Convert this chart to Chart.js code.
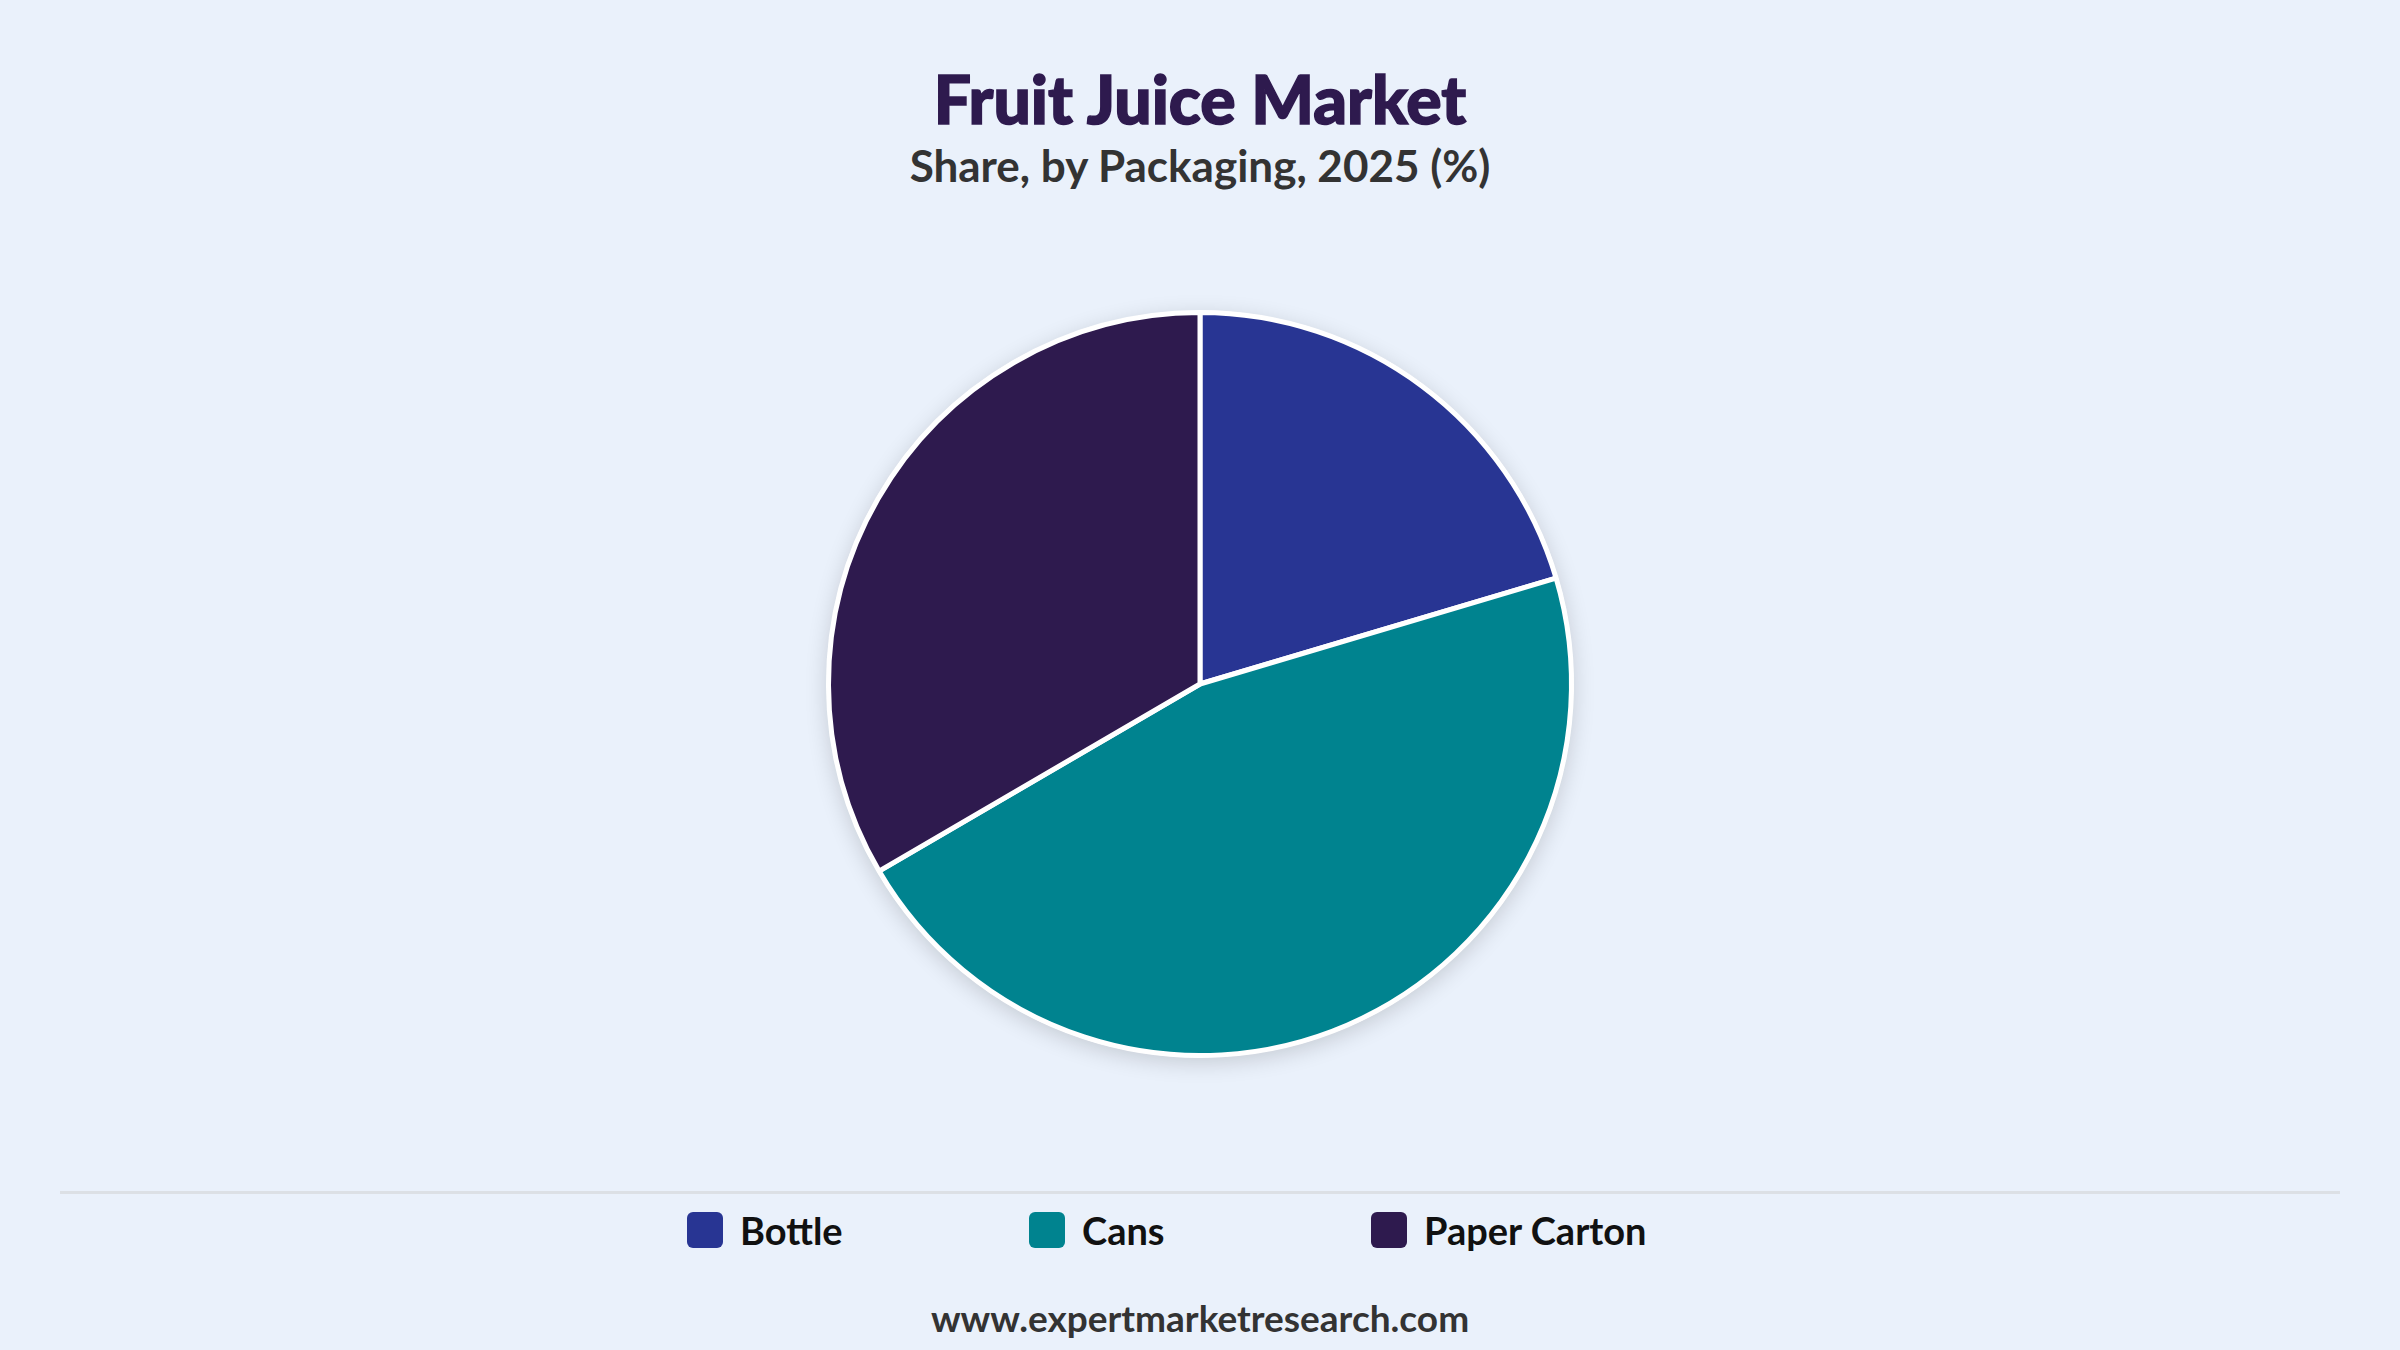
<!DOCTYPE html>
<html lang="en">
<head>
    <meta charset="UTF-8">
    <title>Fruit Juice Market</title>
    <script src="https://cdn.jsdelivr.net/npm/chart.js"></script>
    <style>
        body {
            margin: 0;
            width: 2400px;
            height: 1350px;
            background: #eaf1fb;
            font-family: Lato, "Noto Sans", sans-serif;
            position: relative;
            overflow: hidden;
        }
        .title {
            position: absolute;
            top: 66px;
            width: 100%;
            text-align: center;
            font-size: 66px;
            font-weight: 900;
            color: #2e1a4e;
            -webkit-text-stroke: 1.5px #2e1a4e;
            line-height: 1;
        }
        .subtitle {
            position: absolute;
            top: 143px;
            width: 100%;
            text-align: center;
            font-size: 44px;
            font-weight: 700;
            color: #333;
            line-height: 1;
        }
        .chart-container {
            position: absolute;
            left: 0;
            top: 280px;
            width: 2400px;
            height: 808px;
        }
        .divider {
            position: absolute;
            left: 60px;
            top: 1191px;
            width: 2280px;
            height: 3px;
            background: #dce0e5;
        }
        #legend {
            position: absolute;
            top: 1212px;
            width: 100%;
            display: flex;
            justify-content: center;
        }
        .legend-item {
            width: 342px;
            display: flex;
            align-items: center;
            font-size: 38px;
            font-weight: 700;
            color: #111;
            height: 36px;
        }
        .legend-box {
            width: 36px;
            height: 36px;
            border-radius: 6px;
            margin-right: 17px;
            flex: none;
        }
        .footer {
            position: absolute;
            top: 1299px;
            width: 100%;
            text-align: center;
            font-size: 37px;
            font-weight: 700;
            color: #333;
            line-height: 1;
        }
    </style>
</head>
<body>
    <div class="title">Fruit Juice Market</div>
    <div class="subtitle">Share, by Packaging, 2025 (%)</div>
    <div class="chart-container">
        <canvas id="packagingChart"></canvas>
    </div>
    <div class="divider"></div>
    <div id="legend"></div>
    <div class="footer">www.expertmarketresearch.com</div>
    <script>
        const packaging = ['Bottle', 'Cans', 'Paper Carton'];
        const shares = [20.4, 46.2, 33.4];
        const colors = ['#283593', '#00838f', '#2e1a4e'];

        // soft shadow behind the whole pie
        const pieShadow = {
            id: 'pieShadow',
            beforeDatasetsDraw(chart) {
                const arc = chart.getDatasetMeta(0).data[0];
                if (!arc) return;
                const ctx = chart.ctx;
                ctx.save();
                ctx.beginPath();
                ctx.arc(arc.x, arc.y, arc.outerRadius + 2, 0, Math.PI * 2);
                ctx.fillStyle = '#ffffff';
                ctx.shadowColor = 'rgba(0, 0, 0, 0.16)';
                ctx.shadowBlur = 22;
                ctx.shadowOffsetY = 5;
                ctx.fill();
                ctx.restore();
            }
        };

        const ctx = document.getElementById('packagingChart').getContext('2d');
        const chart = new Chart(ctx, {
            type: 'pie',
            data: {
                labels: packaging,
                datasets: [{
                    data: shares,
                    backgroundColor: colors,
                    borderColor: '#ffffff',
                    borderWidth: 5,
                    hoverOffset: 0
                }]
            },
            options: {
                responsive: true,
                maintainAspectRatio: false,
                animation: false,
                layout: {
                    padding: { top: 30, bottom: 30 }
                },
                plugins: {
                    legend: { display: false },
                    title: { display: false }
                }
            },
            plugins: [pieShadow]
        });

        const legend = document.getElementById('legend');
        chart.data.labels.forEach((label, i) => {
            const item = document.createElement('div');
            item.className = 'legend-item';
            const box = document.createElement('span');
            box.className = 'legend-box';
            box.style.background = chart.data.datasets[0].backgroundColor[i];
            const text = document.createElement('span');
            text.textContent = label;
            item.appendChild(box);
            item.appendChild(text);
            legend.appendChild(item);
        });
    </script>
</body>
</html>
